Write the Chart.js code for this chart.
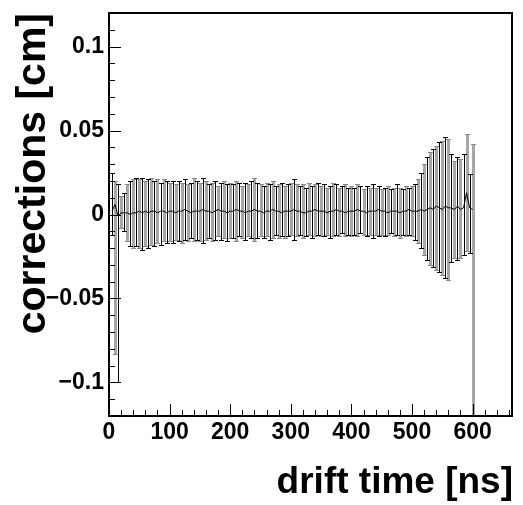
<!DOCTYPE html>
<html>
<head>
<meta charset="utf-8">
<script src="https://cdn.jsdelivr.net/npm/chart.js@4/dist/chart.umd.min.js"></script>
<style>
  html, body { margin: 0; padding: 0; background: #fff; }
</style>
</head>
<body>
<canvas id="corr" width="523" height="505"></canvas>
<script>
// drift time bins [ns]
const driftTime = [
  5, 10, 15, 20, 25, 30, 35, 40, 45, 50,
  55, 60, 65, 70, 75, 80, 85, 90, 95, 100,
  105, 110, 115, 120, 125, 130, 135, 140, 145, 150,
  155, 160, 165, 170, 175, 180, 185, 190, 195, 200,
  205, 210, 215, 220, 225, 230, 235, 240, 245, 250,
  255, 260, 265, 270, 275, 280, 285, 290, 295, 300,
  305, 310, 315, 320, 325, 330, 335, 340, 345, 350,
  355, 360, 365, 370, 375, 380, 385, 390, 395, 400,
  405, 410, 415, 420, 425, 430, 435, 440, 445, 450,
  455, 460, 465, 470, 475, 480, 485, 490, 495, 500,
  505, 510, 515, 520, 525, 530, 535, 540, 545, 550,
  555, 560, 565, 570, 575, 580, 585, 590, 595, 600
];
// mean correction [cm]
const correction = [
  0.002, 0.006, -0.001, 0.001, 0.001, 0.001, 0.000, 0.001, 0.001, 0.002,
  0.001, 0.002, 0.001, 0.002, 0.002, 0.001, 0.002, 0.002, 0.001, 0.002,
  0.002, 0.001, 0.002, 0.002, 0.003, 0.002, 0.001, 0.002, 0.002, 0.002,
  0.003, 0.002, 0.002, 0.001, 0.002, 0.003, 0.002, 0.002, 0.001, 0.002,
  0.002, 0.003, 0.002, 0.002, 0.001, 0.002, 0.002, 0.003, 0.002, 0.002,
  0.001, 0.002, 0.002, 0.003, 0.002, 0.002, 0.001, 0.002, 0.002, 0.002,
  0.003, 0.002, 0.002, 0.001, 0.001, 0.002, 0.002, 0.003, 0.002, 0.002,
  0.002, 0.001, 0.002, 0.002, 0.003, 0.002, 0.002, 0.001, 0.002, 0.002,
  0.002, 0.003, 0.002, 0.002, 0.001, 0.002, 0.002, 0.002, 0.003, 0.002,
  0.002, 0.001, 0.002, 0.002, 0.002, 0.001, 0.002, 0.002, 0.003, 0.002,
  0.002, 0.002, 0.003, 0.002, 0.003, 0.004, 0.003, 0.005, 0.004, 0.003,
  0.005, 0.004, 0.004, 0.003, 0.005, 0.003, 0.004, 0.013, 0.004, 0.003
];
// upper end of error bar [cm]
const upperEdge = [
  0.025, 0.020, 0.018, 0.011, 0.013, 0.018, 0.020, 0.021, 0.022, 0.021,
  0.022, 0.020, 0.021, 0.022, 0.020, 0.021, 0.019, 0.021, 0.020, 0.019,
  0.020, 0.018, 0.020, 0.019, 0.021, 0.018, 0.019, 0.022, 0.020, 0.019,
  0.022, 0.020, 0.018, 0.019, 0.020, 0.017, 0.019, 0.020, 0.018, 0.019,
  0.018, 0.020, 0.019, 0.017, 0.019, 0.018, 0.020, 0.022, 0.019, 0.018,
  0.017, 0.019, 0.018, 0.020, 0.017, 0.018, 0.019, 0.017, 0.018, 0.019,
  0.021, 0.018, 0.017, 0.018, 0.016, 0.019, 0.017, 0.018, 0.019, 0.017,
  0.018, 0.016, 0.017, 0.019, 0.018, 0.016, 0.017, 0.018, 0.016, 0.017,
  0.016, 0.018, 0.017, 0.015, 0.017, 0.016, 0.018, 0.016, 0.017, 0.015,
  0.016, 0.017, 0.015, 0.016, 0.018, 0.016, 0.015, 0.017, 0.016, 0.017,
  0.018, 0.021, 0.025, 0.030, 0.034, 0.037, 0.039, 0.041, 0.043, 0.044,
  0.046, 0.045, 0.036, 0.032, 0.034, 0.033, 0.036, 0.048, 0.024, 0.042
];
// lower end of error bar [cm]
const lowerEdge = [
  -0.012, -0.083, -0.100, -0.008, -0.010, -0.016, -0.019, -0.020, -0.019, -0.020,
  -0.021, -0.019, -0.020, -0.018, -0.019, -0.017, -0.018, -0.016, -0.017, -0.016,
  -0.017, -0.015, -0.016, -0.017, -0.015, -0.016, -0.014, -0.016, -0.015, -0.016,
  -0.017, -0.015, -0.014, -0.016, -0.015, -0.013, -0.015, -0.014, -0.016, -0.014,
  -0.014, -0.016, -0.013, -0.014, -0.015, -0.013, -0.014, -0.016, -0.014, -0.013,
  -0.014, -0.013, -0.015, -0.014, -0.012, -0.014, -0.013, -0.014, -0.013, -0.012,
  -0.015, -0.013, -0.012, -0.014, -0.013, -0.012, -0.014, -0.013, -0.012, -0.013,
  -0.013, -0.012, -0.014, -0.013, -0.012, -0.013, -0.011, -0.013, -0.012, -0.013,
  -0.012, -0.013, -0.011, -0.012, -0.013, -0.012, -0.014, -0.012, -0.013, -0.012,
  -0.013, -0.012, -0.011, -0.013, -0.012, -0.014, -0.012, -0.013, -0.012, -0.013,
  -0.015, -0.017, -0.020, -0.024, -0.027, -0.030, -0.031, -0.033, -0.034, -0.036,
  -0.038, -0.039, -0.028, -0.026, -0.027, -0.026, -0.024, -0.022, -0.023, -0.150
];

const xTicks = [0, 100, 200, 300, 400, 500, 600];
const yTicks = [-0.1, -0.05, 0, 0.05, 0.1];
const xRange = [0, 665];
const yRange = [-0.12, 0.12];

const FONT = "'Liberation Sans', Arial, Helvetica, sans-serif";

// error bars, alternating black / grey like the two overlaid graphs
const errorBars = {
  id: 'errorBars',
  beforeDatasetsDraw(chart) {
    const { ctx, chartArea: a, scales: { x, y } } = chart;
    ctx.save();
    ctx.beginPath();
    ctx.rect(a.left, a.top, a.right - a.left, a.bottom - a.top);
    ctx.clip();
    // grey bars first, black ones on top
    [1, 0].forEach(parity => {
      driftTime.forEach((t, i) => {
        if (i % 2 !== parity) return;
        const black = parity === 0;
        const cx = Math.round(x.getPixelForValue(t));
        const top = Math.round(y.getPixelForValue(upperEdge[i]));
        const bot = Math.round(y.getPixelForValue(lowerEdge[i]));
        if (black) {
          ctx.fillStyle = '#000';
          ctx.fillRect(cx, top, 1, bot - top + 1);
          ctx.fillRect(cx - 2, top, 5, 1);
          ctx.fillRect(cx - 2, bot, 5, 1);
        } else {
          ctx.fillStyle = '#a6a6a6';
          ctx.fillRect(cx - 1, top, 3, bot - top + 1);
          ctx.fillStyle = '#8a8a8a';
          ctx.fillRect(cx - 2, top, 5, 1);
          ctx.fillRect(cx - 2, bot, 5, 1);
        }
      });
    });
    ctx.restore();
  }
};

// ROOT-like frame, inward ticks and right-aligned axis titles
const rootFrame = {
  id: 'rootFrame',
  afterDraw(chart) {
    const { ctx, chartArea: a, scales: { x, y } } = chart;
    ctx.save();
    ctx.strokeStyle = '#000';
    ctx.lineWidth = 1;
    ctx.beginPath();
    for (let v = 0; v <= xRange[1]; v += 20) {
      const px = Math.round(x.getPixelForValue(v)) + 0.5;
      const len = v % 100 === 0 ? 12 : 6;
      ctx.moveTo(px, a.bottom);
      ctx.lineTo(px, a.bottom - len);
    }
    for (let k = -11; k <= 11; k++) {
      const py = Math.round(y.getPixelForValue(k / 100)) + 0.5;
      const len = k % 5 === 0 ? 12 : 6;
      ctx.moveTo(a.left, py);
      ctx.lineTo(a.left + len, py);
    }
    ctx.stroke();

    ctx.lineWidth = 2;
    ctx.strokeRect(a.left, a.top, a.right - a.left, a.bottom - a.top);

    ctx.fillStyle = '#000';
    ctx.font = 'bold 37px ' + FONT;
    ctx.textAlign = 'right';
    ctx.textBaseline = 'alphabetic';
    ctx.fillText('drift time [ns]', 513, 493);

    ctx.translate(45, 13);
    ctx.rotate(-Math.PI / 2);
    ctx.font = 'bold 41px ' + FONT;
    ctx.fillText('corrections [cm]', 0, 0);
    ctx.restore();
  }
};

new Chart(document.getElementById('corr'), {
  type: 'line',
  data: {
    labels: driftTime,
    datasets: [{
      data: driftTime.map((t, i) => ({ x: t, y: correction[i] })),
      borderColor: '#000',
      borderWidth: 1,
      pointRadius: 0,
      tension: 0,
      fill: false
    }]
  },
  options: {
    responsive: false,
    animation: false,
    devicePixelRatio: 1,
    layout: { padding: { top: 13, right: 11, left: 0, bottom: 0 } },
    plugins: { legend: { display: false }, tooltip: { enabled: false } },
    scales: {
      x: {
        type: 'linear',
        min: xRange[0],
        max: xRange[1],
        grid: { display: false, drawTicks: false },
        border: { display: false },
        afterBuildTicks: s => { s.ticks = xTicks.map(v => ({ value: v })); },
        afterFit: s => { s.height = 89; s.paddingLeft = 0; s.paddingRight = 0; },
        ticks: {
          padding: 3,
          maxRotation: 0,
          color: '#000',
          font: { family: FONT, size: 23, weight: 'bold' },
          callback: v => String(v)
        }
      },
      y: {
        min: yRange[0],
        max: yRange[1],
        grid: { display: false, drawTicks: false },
        border: { display: false },
        afterBuildTicks: s => { s.ticks = yTicks.map(v => ({ value: v })); },
        afterFit: s => { s.width = 109; s.paddingTop = 0; s.paddingBottom = 0; },
        ticks: {
          padding: 5,
          color: '#000',
          font: { family: FONT, size: 23, weight: 'bold' },
          callback: v => String(v).replace('-', '\u2212')
        }
      }
    }
  },
  plugins: [errorBars, rootFrame]
});
</script>
</body>
</html>
